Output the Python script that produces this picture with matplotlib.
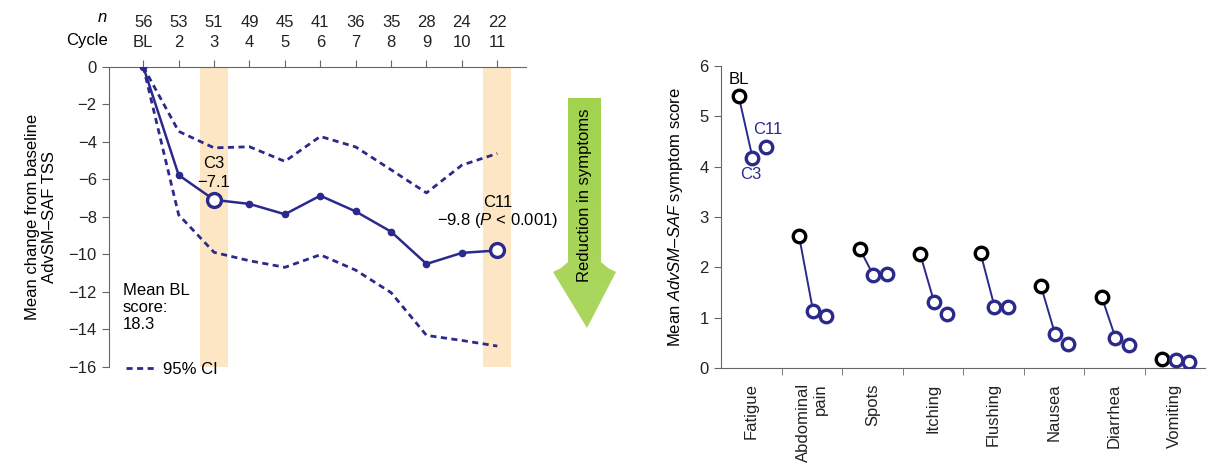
import numpy as np
import matplotlib.pyplot as plt
from matplotlib.patches import Polygon
from matplotlib.colors import LinearSegmentedColormap

plt.rcParams['font.family'] = ['Liberation Sans', 'DejaVu Sans']
plt.rcParams['font.size'] = 12
plt.rcParams['mathtext.fontset'] = 'custom'
plt.rcParams['mathtext.rm'] = 'Liberation Sans'
plt.rcParams['mathtext.it'] = 'Liberation Sans:italic'
plt.rcParams['axes.unicode_minus'] = True

NAVY = '#2b2a8c'
BAND = '#fce6c3'
SPINE = '#666666'

# change from baseline in total symptom score, by cycle
cycles = ['BL', '2', '3', '4', '5', '6', '7', '8', '9', '10', '11']
n_pts = [56, 53, 51, 49, 45, 41, 36, 35, 28, 24, 22]
mean_chg = [0, -5.78, -7.1, -7.32, -7.87, -6.88, -7.72, -8.8, -10.52, -9.93, -9.8]
ci_upper = [0, -3.45, -4.33, -4.27, -5.05, -3.72, -4.28, -5.5, -6.73, -5.25, -4.63]
ci_lower = [0, -7.9, -9.9, -10.35, -10.7, -10.03, -10.85, -12.05, -14.33, -14.6, -14.9]
highlight = [2, 10]  # C3 and C11

# individual symptom scores
symptoms = ['Fatigue', 'Abdominal\npain', 'Spots', 'Itching', 'Flushing',
            'Nausea', 'Diarrhea', 'Vomiting']
score_bl = [5.41, 2.62, 2.37, 2.27, 2.28, 1.62, 1.42, 0.17]
score_c3 = [4.18, 1.14, 1.84, 1.32, 1.22, 0.68, 0.60, 0.15]
score_c11 = [4.40, 1.04, 1.87, 1.07, 1.22, 0.48, 0.46, 0.11]

fig = plt.figure(figsize=(12.1, 4.65), dpi=100)

# ---- left panel ----
ax = fig.add_axes([0.0903, 0.2114, 0.3444, 0.6452])
x = np.arange(len(cycles))
for i in highlight:
    ax.axvspan(i - 0.4, i + 0.4, color=BAND, lw=0, zorder=0)
ax.plot(x, ci_upper, ls=(0, (2.2, 1.6)), color=NAVY, lw=2, zorder=2)
ax.plot(x, ci_lower, ls=(0, (2.2, 1.6)), color=NAVY, lw=2, zorder=2,
        label='95% CI')
ax.plot(x, mean_chg, color=NAVY, lw=1.8, marker='o', ms=4.5, zorder=3)
ax.plot([x[i] for i in highlight], [mean_chg[i] for i in highlight],
        ls='none', marker='o', ms=10, mfc='white', mec=NAVY, mew=2.4, zorder=4)

ax.set_xlim(-0.96, 10.81)
ax.set_ylim(-16, 0)
ax.set_yticks(np.arange(-16, 1, 2))
ax.xaxis.tick_top()
ax.set_xticks(x)
ax.set_xticklabels([f'{n}\n{c}' for n, c in zip(n_pts, cycles)], linespacing=1.4)
ax.tick_params(axis='x', length=5, pad=7, colors='#222222')
ax.tick_params(axis='y', length=5, pad=4, colors='#222222')
ax.tick_params(color=SPINE)
for s in ['bottom', 'right']:
    ax.spines[s].set_visible(False)
for s in ['top', 'left']:
    ax.spines[s].set_color(SPINE)
ax.set_ylabel('Mean change from baseline\nAdvSM\u2013SAF TSS', labelpad=8)

fig.text(0.089, 1 - 18 / 465, r'$\it{n}$', ha='right', va='center')
fig.text(0.089, 1 - 40 / 465, 'Cycle', ha='right', va='center')

ax.text(2, -5.14, 'C3', ha='center', va='center')
ax.text(2, -6.2, '\u22127.1', ha='center', va='center')
ax.text(10, -7.26, 'C11', ha='center', va='center')
ax.text(10, -8.2, '\u22129.8 ($\\it{P}$ < 0.001)', ha='center', va='center')
ax.text(-0.58, -12.85, 'Mean BL\nscore:\n18.3', ha='left', va='center',
        linespacing=1.15)
ax.legend(loc='lower left', bbox_to_anchor=(0.025, -0.055), frameon=False,
          handlelength=1.7, handletextpad=0.5, borderaxespad=0)

# ---- arrow ----
ov = fig.add_axes([0, 0, 1, 1])
ov.set_xlim(0, 1210)
ov.set_ylim(465, 0)
ov.axis('off')
arrow = Polygon([(568, 98), (601, 98), (601, 262), (608, 268), (616, 272),
                 (587, 328), (553, 272), (561, 268), (568, 262)],
                closed=True, fc='none', ec='none')
ov.add_patch(arrow)
grad = np.linspace(0, 1, 256)[:, None]
green = LinearSegmentedColormap.from_list('g', ['#a1d34e', '#abd75f'])
im = ov.imshow(grad, extent=(550, 618, 330, 96), cmap=green,
               aspect='auto', zorder=1)
im.set_clip_path(arrow)
ov.text(584, 195, 'Reduction in symptoms', rotation=90, ha='center',
        va='center', fontsize=12, zorder=2)

# ---- right panel ----
ax2 = fig.add_axes([0.5959, 0.2086, 0.4, 0.6495])
xs = np.arange(len(symptoms))
off = [-0.21, 0.02, 0.24]
for i in xs:
    ax2.plot([i + off[0], i + off[1]], [score_bl[i], score_c3[i]],
             color=NAVY, lw=1.4, zorder=2)
ax2.plot(xs + off[0], score_bl, ls='none', marker='o', ms=9, mfc='white',
         mec='black', mew=2.4, zorder=3)
ax2.plot(xs + off[1], score_c3, ls='none', marker='o', ms=9, mfc='white',
         mec=NAVY, mew=2.4, zorder=3)
ax2.plot(xs + off[2], score_c11, ls='none', marker='o', ms=9, mfc='white',
         mec=NAVY, mew=2.4, zorder=3)
ax2.text(off[0], 5.73, 'BL', ha='center', va='center', color='black')
ax2.text(0.28, 4.73, 'C11', ha='center', va='center', color=NAVY)
ax2.text(-0.01, 3.84, 'C3', ha='center', va='center', color=NAVY)

ax2.set_xlim(-0.5, 7.5)
ax2.set_ylim(0, 6)
ax2.set_xticks(xs)
ax2.set_xticklabels(symptoms, rotation=90, va='top', ha='center',
                    multialignment='right')
ax2.set_xticks(np.arange(0.5, 7), minor=True)
ax2.tick_params(axis='x', which='major', length=0, pad=11, colors='#222222')
ax2.tick_params(axis='x', which='minor', length=5, color=SPINE)
ax2.tick_params(axis='y', length=5, pad=4, colors='#222222', color=SPINE)
for s in ['top', 'right']:
    ax2.spines[s].set_visible(False)
for s in ['bottom', 'left']:
    ax2.spines[s].set_color(SPINE)
ax2.set_ylabel('Mean $\\it{AdvSM\u2013SAF}$ symptom score', labelpad=10)

fig.savefig('out.png', dpi=100)
